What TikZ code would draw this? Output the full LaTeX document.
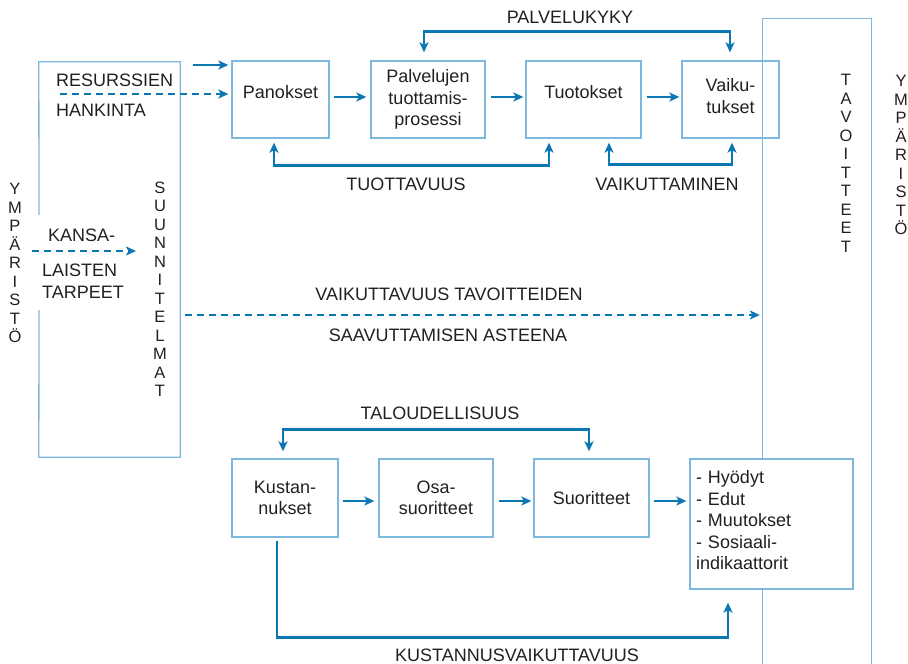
\documentclass[tikz,border=0pt]{standalone}
\usepackage{fontspec}
\setmainfont{Liberation Sans}
\usetikzlibrary{arrows.meta,calc}
\definecolor{boxc}{HTML}{7DB9DF}
\definecolor{arrc}{HTML}{0B78B3}
\definecolor{txtc}{HTML}{231F20}
\begin{document}
\begin{tikzpicture}[x=1pt,y=-1pt,
  >={Stealth[length=10pt,width=9pt,inset=2.5pt]},
  boxline/.style={draw=boxc,line width=1.3pt},
  box/.style={boxline,inner sep=0pt,align=center,font=\fontsize{18}{21.5}\selectfont,text=txtc},
  lbl/.style={inner sep=0pt,font=\fontsize{18}{21.5}\selectfont,text=txtc},
  vert/.style={inner sep=0pt,align=center,font=\fontsize{16.5}{18.5}\selectfont,text=txtc},
  arr/.style={draw=arrc,line width=2.8pt,->},
  darr/.style={arr,dash pattern=on 7pt off 5pt},
  brk/.style={draw=arrc,line width=2.8pt}]
\useasboundingbox (0,0) rectangle (908,664);

% large frames
\node[minimum width=141pt,minimum height=395pt,inner sep=0pt] (suun) at (109.5,259.5) {};
\coordinate (g1) at (39,215);
\coordinate (g2) at (39,310);
\draw[boxline] (g1) -- (suun.north west) -- (suun.north east) -- (suun.south east) -- (suun.south west) -- (g2);

\node[minimum width=108pt,minimum height=660pt,inner sep=0pt] (tav) at (817,349) {};
\draw[boxline] (tav.south west) -- (tav.north west) -- (tav.north east) -- (tav.south east);

% top row
\node[box,minimum width=97pt,minimum height=77pt,text height=13pt,text depth=15pt] (pan) at (280.5,99.5) {Panokset};
\node[box,minimum width=114pt,minimum height=77pt] (pal) at (428,99.5) {Palvelujen\\tuottamis-\\prosessi};
\node[box,minimum width=115pt,minimum height=77pt,text height=13pt,text depth=15pt] (tuo) at (583.5,99.5) {Tuotokset};
\node[box,minimum width=97pt,minimum height=77pt] (vai) at (730.5,99.5) {Vaiku-\\tukset\\[-14pt]\mbox{}};

% bottom row
\node[box,minimum width=106pt,minimum height=78pt] (kus) at (285,498) {Kustan-\\nukset};
\node[box,minimum width=114pt,minimum height=78pt] (osa) at (436,498) {Osa-\\suoritteet};
\node[box,minimum width=115pt,minimum height=78pt] (suo) at (591.5,498) {Suoritteet};
\node[box,fill=white,minimum height=130pt,text width=151pt,inner xsep=6pt,align=left] (hyo) at (771.5,524) {- Hyödyt\\- Edut\\- Muutokset\\- Sosiaali-\\indikaattorit\\[-14pt]\mbox{}};

% vertical texts
\node[vert] (ymp1) at (15,263) {Y\\M\\P\\Ä\\R\\I\\S\\T\\Ö};
\node[vert] (suuntxt) at (160,289) {S\\U\\U\\N\\N\\I\\T\\E\\L\\M\\A\\T};
\node[vert] (tavtxt) at (846,163.5) {T\\A\\V\\O\\I\\T\\T\\E\\E\\T};
\node[vert] (ymp2) at (901,155) {Y\\M\\P\\Ä\\R\\I\\S\\T\\Ö};

% labels
\node[lbl] (palvk) at (570,17) {PALVELUKYKY};
\node[lbl] (tuottl) at (406,184) {TUOTTAVUUS};
\node[lbl] (vaikl) at (667,184) {VAIKUTTAMINEN};
\node[lbl,anchor=west] (res) at (56,80) {RESURSSIEN};
\node[lbl,anchor=west] (hank) at (56,110) {HANKINTA};
\node[lbl,anchor=west] (kan1) at (48,235) {KANSA-};
\node[lbl,anchor=west] (kan2) at (42,270) {LAISTEN};
\node[lbl,anchor=west] (kan3) at (42,292) {TARPEET};
\node[lbl] (vt1) at (449,294) {VAIKUTTAVUUS TAVOITTEIDEN};
\node[lbl] (vt2) at (448,335) {SAAVUTTAMISEN ASTEENA};
\node[lbl] (talo) at (440,413) {TALOUDELLISUUS};
\node[lbl] (kvl) at (517,655) {KUSTANNUSVAIKUTTAVUUS};

% incoming arrows
\coordinate (r1) at (193,65);
\draw[arr,shorten >=3pt] (r1) -- (r1 -| pan.west);
\coordinate (r2) at (60,94);
\draw[darr,shorten >=3pt] (r2) -- (r2 -| pan.west);
\coordinate (k1) at (32,251);
\coordinate (k2) at (136,251);
\draw[darr] (k1) -- (k2);
\coordinate (v1) at (185,315);
\draw[darr,shorten >=3pt] (v1) -- (v1 -| tav.west);

% flow arrows
\draw[arr,shorten <=4pt,shorten >=4pt] ([yshift=2.5pt]pan.east) -- ([yshift=2.5pt]pal.west);
\draw[arr,shorten <=5pt,shorten >=2pt] ([yshift=2.5pt]pal.east) -- ([yshift=2.5pt]tuo.west);
\draw[arr,shorten <=5pt,shorten >=2pt] ([yshift=2.5pt]tuo.east) -- ([yshift=2.5pt]vai.west);
\draw[arr,shorten <=4pt,shorten >=4pt] ([yshift=-3pt]kus.east) -- ([yshift=-3pt]osa.west);
\draw[arr,shorten <=5pt,shorten >=2pt] ([yshift=-3pt]osa.east) -- ([yshift=-3pt]suo.west);
\draw[arr,shorten <=4pt,shorten >=3pt] ([yshift=-3pt]suo.east) -- ([yshift=-3pt]suo.east -| hyo.west);

% brackets
\draw[brk,<->,shorten <=8pt,shorten >=8pt] ([xshift=-4pt]pal.north) -- ++(0,-29) -| ([xshift=-0.5pt]vai.north);
\draw[brk,<->,shorten <=4pt,shorten >=4pt] ([xshift=-6.5pt]pan.south) -- ++(0,27) -| ([xshift=-34.5pt]tuo.south);
\draw[brk,<->,shorten <=4pt,shorten >=4pt] ([xshift=25.5pt]tuo.south) -- ++(0,26) -| ([xshift=1.5pt]vai.south);
\draw[brk,<->,shorten <=7pt,shorten >=7pt] ([xshift=-2pt]kus.north) -- ++(0,-29) -| ([xshift=-2.5pt]suo.north);
\draw[brk,->,shorten <=3pt,shorten >=13pt] ([xshift=-8pt]kus.south) -- ++(0,100) -| ([xshift=-43.5pt]hyo.south);
\end{tikzpicture}
\end{document}
